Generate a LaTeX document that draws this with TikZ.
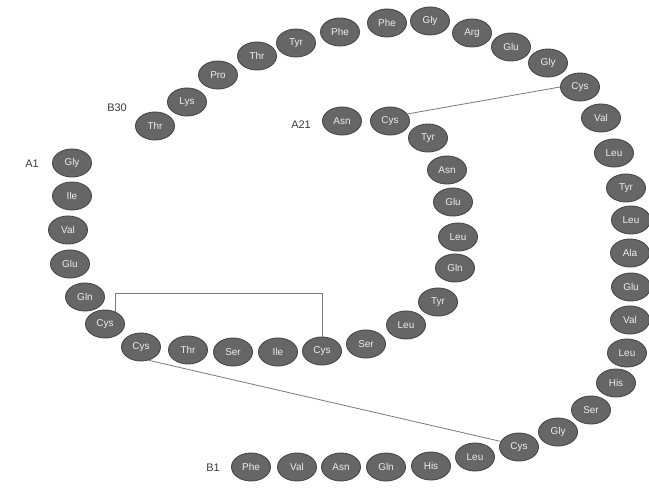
\documentclass[tikz,border=0pt]{standalone}
\usepackage{fontspec}
\setmainfont{Liberation Sans}
\usetikzlibrary{shapes.geometric}
\definecolor{aafill}{HTML}{666666}
\definecolor{aadraw}{HTML}{484848}
\definecolor{aatext}{HTML}{EDEDED}
\definecolor{lbl}{HTML}{3A3A3A}
\definecolor{bond}{HTML}{7A7A7A}
\begin{document}
\begin{tikzpicture}[x=1bp,y=-1bp,
  aa/.style={ellipse,fill=aafill,draw=aadraw,line width=0.9bp,minimum width=39bp,minimum height=28bp,inner sep=0pt,text=aatext,font=\fontsize{10}{10}\selectfont},
  chainlbl/.style={text=lbl,font=\fontsize{11}{11}\selectfont,inner sep=0pt},
  ss/.style={draw=bond,line width=0.8bp}]
\useasboundingbox (0,0) rectangle (649,490);
\fill[white] (0,0) rectangle (649,490);
\clip (0,0) rectangle (649,490);
% A chain
\node[aa] (a1) at (72,163) {Gly};
\node[aa] (a2) at (72,196) {Ile};
\node[aa] (a3) at (68,230) {Val};
\node[aa] (a4) at (70,264) {Glu};
\node[aa] (a5) at (85,297) {Gln};
\node[aa] (a6) at (105,324) {Cys};
\node[aa] (a7) at (141,347) {Cys};
\node[aa] (a8) at (188,350) {Thr};
\node[aa] (a9) at (233,352) {Ser};
\node[aa] (a10) at (278,352) {Ile};
\node[aa] (a11) at (322,351) {Cys};
\node[aa] (a12) at (366,344) {Ser};
\node[aa] (a13) at (406,325) {Leu};
\node[aa] (a14) at (438,302) {Tyr};
\node[aa] (a15) at (455,268) {Gln};
\node[aa] (a16) at (458,237) {Leu};
\node[aa] (a17) at (453,202) {Glu};
\node[aa] (a18) at (447,170) {Asn};
\node[aa] (a19) at (428,138) {Tyr};
\node[aa] (a20) at (390,121) {Cys};
\node[aa] (a21) at (342,121) {Asn};
% B chain
\node[aa] (b1) at (251,467) {Phe};
\node[aa] (b2) at (297,467) {Val};
\node[aa] (b3) at (341,467) {Asn};
\node[aa] (b4) at (386,467) {Gln};
\node[aa] (b5) at (431,466) {His};
\node[aa] (b6) at (475,457) {Leu};
\node[aa] (b7) at (519,447) {Cys};
\node[aa] (b8) at (558,432) {Gly};
\node[aa] (b9) at (591,410) {Ser};
\node[aa] (b10) at (616,383) {His};
\node[aa] (b11) at (627,353) {Leu};
\node[aa] (b12) at (630,320) {Val};
\node[aa] (b13) at (631,287) {Glu};
\node[aa] (b14) at (630,253) {Ala};
\node[aa] (b15) at (631,220) {Leu};
\node[aa] (b16) at (626,188) {Tyr};
\node[aa] (b17) at (614,153) {Leu};
\node[aa] (b18) at (601,118) {Val};
\node[aa] (b19) at (580,87) {Cys};
\node[aa] (b20) at (548,63) {Gly};
\node[aa] (b21) at (511,47) {Glu};
\node[aa] (b22) at (472,33) {Arg};
\node[aa] (b23) at (430,21) {Gly};
\node[aa] (b24) at (387,23) {Phe};
\node[aa] (b25) at (340,32) {Phe};
\node[aa] (b26) at (296,43) {Tyr};
\node[aa] (b27) at (257,56) {Thr};
\node[aa] (b28) at (218,75) {Pro};
\node[aa] (b29) at (187,102) {Lys};
\node[aa] (b30) at (155,126) {Thr};
% labels
\node[chainlbl] (la1) at (32,164) {A1};
\node[chainlbl] (lb30) at (117,108) {B30};
\node[chainlbl] (la21) at (301,125) {A21};
\node[chainlbl] (lb1) at (213,468) {B1};
% disulfide bonds
\coordinate (kink) at (0,293);
\draw[ss] (a6.49) -- (a6.49 |- kink) -- (a11.north |- kink) -- (a11.north);
\draw[ss] (a7.-60) -- (b7.163);
\draw[ss] (a20.22) -- (b19.west);
\end{tikzpicture}
\end{document}
